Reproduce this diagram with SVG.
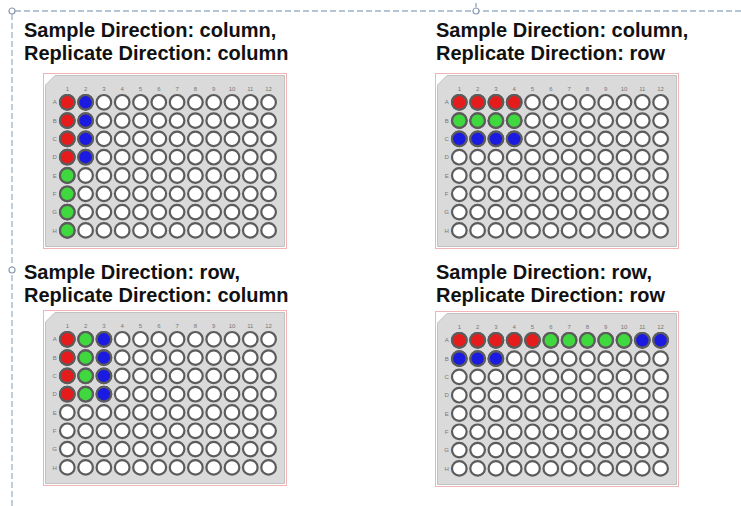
<svg xmlns="http://www.w3.org/2000/svg" xmlns:xlink="http://www.w3.org/1999/xlink" width="741" height="506" viewBox="0 0 741 506">
<style>
.title{font-family:"Liberation Sans",Arial,sans-serif;font-weight:bold;font-size:20px;fill:#111}
.lbl{font-family:"Liberation Sans",Arial,sans-serif;font-size:6px;fill:#777;text-anchor:middle}
.w{fill:#fff;stroke:#5c5c5c;stroke-width:2.2}
.r{fill:#e61c1c;stroke:#5c5c5c;stroke-width:2.2}
.g{fill:#3fd83f;stroke:#5c5c5c;stroke-width:2.2}
.b{fill:#1a1ae0;stroke:#5c5c5c;stroke-width:2.2}
.sel{stroke:#9fb3c8;stroke-width:1.3;stroke-dasharray:6 3;fill:none}
.h{fill:#fff;stroke:#8a9bb0;stroke-width:1.2}
</style>
<defs>
<g id="row">
<circle class="w" cx="24.3" cy="0" r="7.3"/><circle class="w" cx="42.6" cy="0" r="7.3"/><circle class="w" cx="60.9" cy="0" r="7.3"/><circle class="w" cx="79.2" cy="0" r="7.3"/><circle class="w" cx="97.5" cy="0" r="7.3"/><circle class="w" cx="115.8" cy="0" r="7.3"/><circle class="w" cx="134.1" cy="0" r="7.3"/><circle class="w" cx="152.4" cy="0" r="7.3"/><circle class="w" cx="170.7" cy="0" r="7.3"/><circle class="w" cx="189" cy="0" r="7.3"/><circle class="w" cx="207.3" cy="0" r="7.3"/><circle class="w" cx="225.6" cy="0" r="7.3"/>
</g>
<g id="plate">
<rect x="0.5" y="0.5" width="243" height="175" fill="#fff" stroke="#f0b4b4" stroke-width="1"/>
<polygon points="2.5,12 12,2.5 241.5,2.5 241.5,173.5 2.5,173.5" fill="#dadada" stroke="#c2c2c2" stroke-width="1"/>
<g class="lbl">
<text x="24.3" y="18">1</text><text x="42.6" y="18">2</text><text x="60.9" y="18">3</text><text x="79.2" y="18">4</text><text x="97.5" y="18">5</text><text x="115.8" y="18">6</text><text x="134.1" y="18">7</text><text x="152.4" y="18">8</text><text x="170.7" y="18">9</text><text x="189" y="18">10</text><text x="207.3" y="18">11</text><text x="225.6" y="18">12</text>
<text x="11.7" y="31.4">A</text><text x="11.7" y="49.7">B</text><text x="11.7" y="68">C</text><text x="11.7" y="86.3">D</text><text x="11.7" y="104.6">E</text><text x="11.7" y="122.9">F</text><text x="11.7" y="141.2">G</text><text x="11.7" y="159.5">H</text>
</g>
<use xlink:href="#row" y="29.3"/><use xlink:href="#row" y="47.6"/><use xlink:href="#row" y="65.9"/><use xlink:href="#row" y="84.2"/><use xlink:href="#row" y="102.5"/><use xlink:href="#row" y="120.8"/><use xlink:href="#row" y="139.1"/><use xlink:href="#row" y="157.4"/>
</g>
</defs>
<rect width="741" height="506" fill="#fff"/>

<g id="selection">
<line class="sel" x1="15" y1="11" x2="741" y2="11"/>
<line class="sel" x1="12" y1="14" x2="12" y2="506"/>
<line x1="476" y1="3" x2="476" y2="7" stroke="#8a9bb0" stroke-width="1.2"/>
<circle class="h" cx="12" cy="11" r="3"/>
<circle class="h" cx="476" cy="11" r="3"/>
<circle class="h" cx="12" cy="270" r="3"/>
</g>

<g id="q-col-col">
<text class="title" x="24" y="36.5">Sample Direction: column,</text>
<text class="title" x="24" y="60">Replicate Direction: column</text>
<g transform="translate(43,73)">
<use xlink:href="#plate"/>
<circle class="r" cx="24.3" cy="29.3" r="7.3"/><circle class="r" cx="24.3" cy="47.6" r="7.3"/><circle class="r" cx="24.3" cy="65.9" r="7.3"/><circle class="r" cx="24.3" cy="84.2" r="7.3"/>
<circle class="g" cx="24.3" cy="102.5" r="7.3"/><circle class="g" cx="24.3" cy="120.8" r="7.3"/><circle class="g" cx="24.3" cy="139.1" r="7.3"/><circle class="g" cx="24.3" cy="157.4" r="7.3"/>
<circle class="b" cx="42.6" cy="29.3" r="7.3"/><circle class="b" cx="42.6" cy="47.6" r="7.3"/><circle class="b" cx="42.6" cy="65.9" r="7.3"/><circle class="b" cx="42.6" cy="84.2" r="7.3"/>
</g>
</g>

<g id="q-col-row">
<text class="title" x="436" y="36.5">Sample Direction: column,</text>
<text class="title" x="436" y="60">Replicate Direction: row</text>
<g transform="translate(435,73)">
<use xlink:href="#plate"/>
<circle class="r" cx="24.3" cy="29.3" r="7.3"/><circle class="r" cx="42.6" cy="29.3" r="7.3"/><circle class="r" cx="60.9" cy="29.3" r="7.3"/><circle class="r" cx="79.2" cy="29.3" r="7.3"/>
<circle class="g" cx="24.3" cy="47.6" r="7.3"/><circle class="g" cx="42.6" cy="47.6" r="7.3"/><circle class="g" cx="60.9" cy="47.6" r="7.3"/><circle class="g" cx="79.2" cy="47.6" r="7.3"/>
<circle class="b" cx="24.3" cy="65.9" r="7.3"/><circle class="b" cx="42.6" cy="65.9" r="7.3"/><circle class="b" cx="60.9" cy="65.9" r="7.3"/><circle class="b" cx="79.2" cy="65.9" r="7.3"/>
</g>
</g>

<g id="q-row-col">
<text class="title" x="24" y="278.5">Sample Direction: row,</text>
<text class="title" x="24" y="302">Replicate Direction: column</text>
<g transform="translate(43,310)">
<use xlink:href="#plate"/>
<circle class="r" cx="24.3" cy="29.3" r="7.3"/><circle class="r" cx="24.3" cy="47.6" r="7.3"/><circle class="r" cx="24.3" cy="65.9" r="7.3"/><circle class="r" cx="24.3" cy="84.2" r="7.3"/>
<circle class="g" cx="42.6" cy="29.3" r="7.3"/><circle class="g" cx="42.6" cy="47.6" r="7.3"/><circle class="g" cx="42.6" cy="65.9" r="7.3"/><circle class="g" cx="42.6" cy="84.2" r="7.3"/>
<circle class="b" cx="60.9" cy="29.3" r="7.3"/><circle class="b" cx="60.9" cy="47.6" r="7.3"/><circle class="b" cx="60.9" cy="65.9" r="7.3"/><circle class="b" cx="60.9" cy="84.2" r="7.3"/>
</g>
</g>

<g id="q-row-row">
<text class="title" x="436" y="278.5">Sample Direction: row,</text>
<text class="title" x="436" y="302">Replicate Direction: row</text>
<g transform="translate(435,311)">
<use xlink:href="#plate"/>
<circle class="r" cx="24.3" cy="29.3" r="7.3"/><circle class="r" cx="42.6" cy="29.3" r="7.3"/><circle class="r" cx="60.9" cy="29.3" r="7.3"/><circle class="r" cx="79.2" cy="29.3" r="7.3"/><circle class="r" cx="97.5" cy="29.3" r="7.3"/>
<circle class="g" cx="115.8" cy="29.3" r="7.3"/><circle class="g" cx="134.1" cy="29.3" r="7.3"/><circle class="g" cx="152.4" cy="29.3" r="7.3"/><circle class="g" cx="170.7" cy="29.3" r="7.3"/><circle class="g" cx="189" cy="29.3" r="7.3"/>
<circle class="b" cx="207.3" cy="29.3" r="7.3"/><circle class="b" cx="225.6" cy="29.3" r="7.3"/>
<circle class="b" cx="24.3" cy="47.6" r="7.3"/><circle class="b" cx="42.6" cy="47.6" r="7.3"/><circle class="b" cx="60.9" cy="47.6" r="7.3"/>
</g>
</g>
</svg>
